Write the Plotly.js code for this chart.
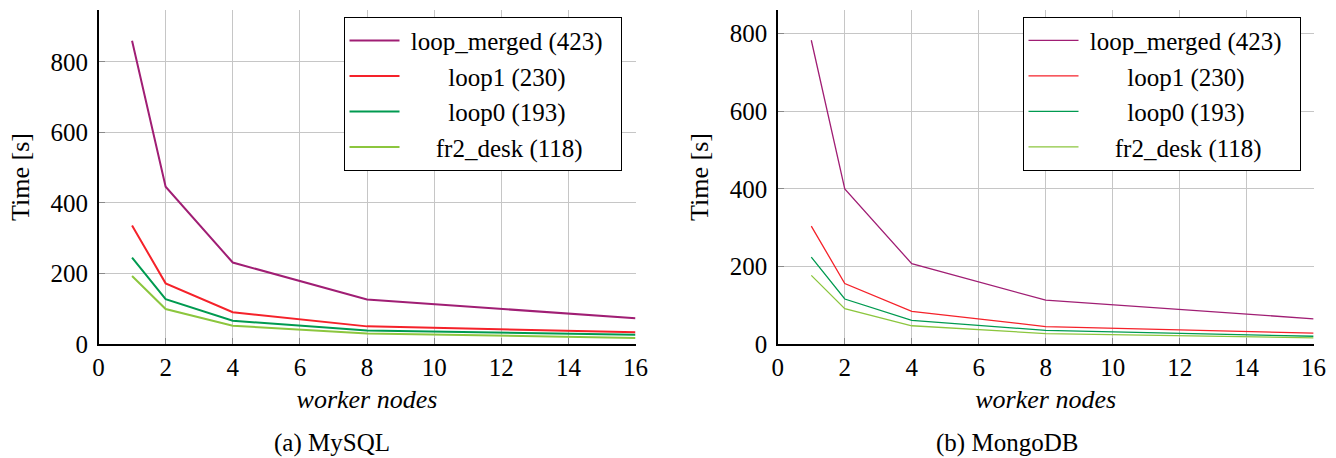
<!DOCTYPE html>
<html>
<head>
<meta charset="utf-8">
<script src="https://cdn.plot.ly/plotly-3.0.1.min.js"></script>
<style>
  html, body { margin: 0; padding: 0; background: #ffffff; }
  #chart { width: 1336px; height: 458px; }
</style>
</head>
<body>
<div id="chart"></div>
<script>
// ---- data ----
const workerNodes = [1, 2, 4, 8, 16];
const seriesNames = ['loop_merged (423)', 'loop1 (230)', 'loop0 (193)', 'fr2_desk (118)'];
const legendPadLeft = [1, 7, 7, 5];
const legendPadRight = [2, 0, 0, 0];

// (a) MySQL
const mysqlLoopMerged = [860, 446, 231, 126, 73];
const mysqlLoop1      = [336, 172, 90, 50, 33];
const mysqlLoop0      = [245, 127, 66, 38, 26];
const mysqlFr2Desk    = [193, 99, 52, 30, 17];

// (b) MongoDB
const mongoLoopMerged = [783, 400, 207, 113, 65];
const mongoLoop1      = [304, 156, 84, 45, 28];
const mongoLoop0      = [224, 116, 61, 35, 20];
const mongoFr2Desk    = [177, 91, 47, 27, 16];

const xTicks = [0, 2, 4, 6, 8, 10, 12, 14, 16];
const yTicks = [0, 200, 400, 600, 800];

// ---- styles ----
const colors = ['#A01E74', '#F5222A', '#009A50', '#8CC63E'];
const FONT = 'Liberation Serif';
const W = 1336, H = 458;

function padName(name, l, r) { return '\u00A0'.repeat(l) + name + '\u00A0'.repeat(r); }

const mysqlSeries = [mysqlLoopMerged, mysqlLoop1, mysqlLoop0, mysqlFr2Desk];
const mongoSeries = [mongoLoopMerged, mongoLoop1, mongoLoop0, mongoFr2Desk];

const traces = [];
mysqlSeries.forEach((ys, i) => {
  traces.push({
    x: workerNodes, y: ys, xaxis: 'x', yaxis: 'y', type: 'scatter', mode: 'lines',
    name: padName(seriesNames[i], legendPadLeft[i], legendPadRight[i]),
    line: { color: colors[i], width: 2 }, legend: 'legend'
  });
});
mongoSeries.forEach((ys, i) => {
  traces.push({
    x: workerNodes, y: ys, xaxis: 'x2', yaxis: 'y2', type: 'scatter', mode: 'lines',
    name: padName(seriesNames[i], legendPadLeft[i], legendPadRight[i]),
    line: { color: colors[i], width: 1.3 }, legend: 'legend2'
  });
});

function xAxis(domain, anchor) {
  return {
    domain: domain, anchor: anchor, range: [0, 16], tickvals: xTicks,
    showgrid: true, gridcolor: '#c6c6c6', gridwidth: 1,
    showline: true, linecolor: '#000', linewidth: 1.5, mirror: false,
    ticks: 'inside', ticklen: 6, tickcolor: '#8a8a8a', tickwidth: 1,
    zeroline: false, automargin: false,
    tickfont: { family: FONT, size: 25, color: '#000' },
    title: { text: '<i>worker nodes</i>', font: { family: FONT, size: 26, color: '#000' }, standoff: 10 }
  };
}
function yAxis(domain, anchor, top) {
  return {
    domain: domain, anchor: anchor, range: [0, top], tickvals: yTicks,
    showgrid: true, gridcolor: '#c6c6c6', gridwidth: 1,
    showline: true, linecolor: '#000', linewidth: 1.5, mirror: false,
    ticks: 'inside', ticklen: 6, tickcolor: '#8a8a8a', tickwidth: 1,
    zeroline: false, automargin: false, ticklabelstandoff: 4,
    tickfont: { family: FONT, size: 25, color: '#000' },
    title: { text: 'Time [s]', font: { family: FONT, size: 26, color: '#000' }, standoff: 13 }
  };
}

const yDom = [(H - 344) / H, (H - 10) / H];

const legendStyle = (x) => ({
  x: x, y: 1 - 16.7 / H, xanchor: 'left', yanchor: 'top',
  bgcolor: '#ffffff', bordercolor: '#000', borderwidth: 1,
  font: { family: FONT, size: 25, color: '#000' },
  tracegroupgap: 0, itemwidth: 50
});

const layout = {
  width: W, height: H,
  margin: { l: 0, r: 0, t: 0, b: 0 },
  paper_bgcolor: '#ffffff', plot_bgcolor: '#ffffff',
  showlegend: true,
  font: { family: FONT, color: '#000' },
  xaxis: xAxis([98.5 / W, 635.5 / W], 'y'),
  yaxis: yAxis(yDom, 'x', 947),
  xaxis2: xAxis([777.8 / W, 1313.6 / W], 'y2'),
  yaxis2: yAxis(yDom, 'x2', 861),
  legend: legendStyle(343.5 / W),
  legend2: legendStyle(1022.5 / W),
  annotations: [
    { text: '(a) MySQL', xref: 'paper', yref: 'paper', x: 332 / W, y: 1 - 443 / H,
      xanchor: 'center', yanchor: 'middle', showarrow: false,
      font: { family: FONT, size: 25, color: '#000' } },
    { text: '(b) MongoDB', xref: 'paper', yref: 'paper', x: 1007 / W, y: 1 - 443 / H,
      xanchor: 'center', yanchor: 'middle', showarrow: false,
      font: { family: FONT, size: 25, color: '#000' } }
  ]
};

Plotly.newPlot('chart', traces, layout, { staticPlot: true, displayModeBar: false });
</script>
</body>
</html>
